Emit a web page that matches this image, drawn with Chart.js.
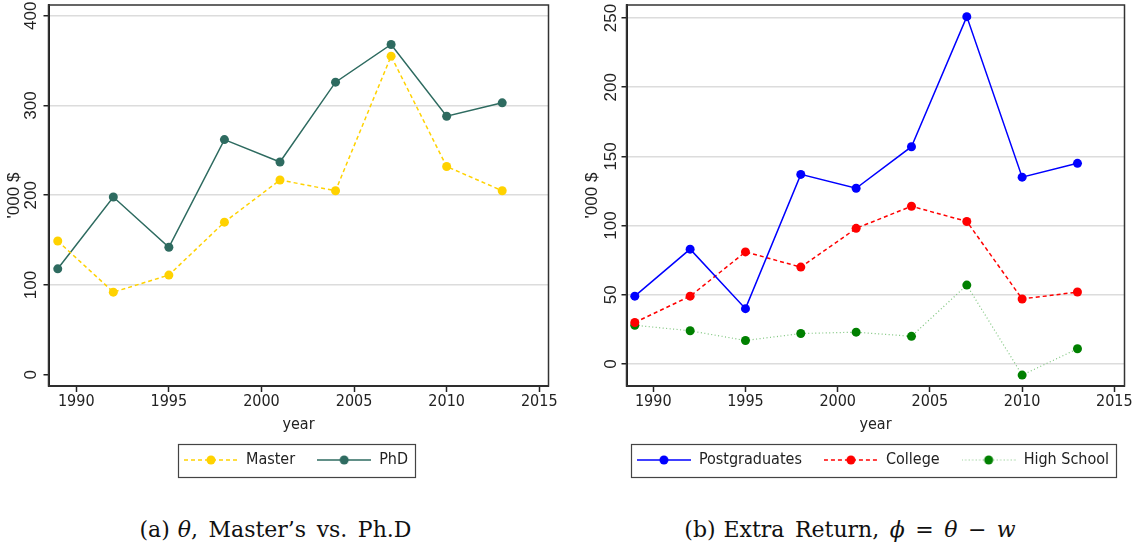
<!DOCTYPE html>
<html>
<head>
<meta charset="utf-8">
<script src="https://cdn.jsdelivr.net/npm/chart.js@4.4.1/dist/chart.umd.min.js"></script>
<style>
  body { margin: 0; background: #fff; }
  #page { position: relative; width: 1134px; height: 550px; }
  .panel { position: absolute; top: 0; }
  .cap {
    position: absolute; top: 517px; text-align: center;
    font-family: 'DejaVu Serif', 'Liberation Serif', serif; font-size: 22px;
    word-spacing: 3.5px; line-height: 26px; color: #111;
  }
  .cap .tag { margin-right: 8px; }
</style>
</head>
<body>
<div id="page">
  <div class="panel" style="left:0"><canvas id="theta" width="578" height="490"></canvas></div>
  <div class="panel" style="left:578px"><canvas id="extra" width="556" height="490"></canvas></div>
  <div class="cap" style="left:0;width:551px"><span class="tag">(a)</span><i>θ</i>, Master’s vs. Ph.D</div>
  <div class="cap" style="left:578px;width:544px"><span class="tag">(b)</span>Extra Return, <i>ϕ</i> = <i>θ</i> − <i>w</i></div>
</div>

<script>
// survey waves
const years = [1989, 1992, 1995, 1998, 2001, 2004, 2007, 2010, 2013];

// panel (a): theta by degree, '000 $
const master = [149, 92, 111, 170, 217, 205, 355, 232, 205];
const phd = [118, 198, 142, 262, 237, 326, 368, 288, 303];

// panel (b): extra return phi, '000 $
const postgrad = [49, 83, 40, 137, 127, 157, 251, 135, 145];
const college = [30, 49, 81, 70, 98, 114, 103, 47, 52];
const highSchool = [28, 24, 17, 22, 23, 20, 57, -8, 11];

const xTicks = [1990, 1995, 2000, 2005, 2010, 2015];
const yTicksA = [0, 100, 200, 300, 400];
const yTicksB = [0, 50, 100, 150, 200, 250];

const sans = "'Liberation Sans', Arial, sans-serif";
const narrow = "'Liberation Sans Narrow', 'Arial Narrow', 'DejaVu Sans Condensed', sans-serif";
const ink = '#222';

// little line+dot swatch used as the legend key
function keyImage(line, dot, dash, lw) {
  const c = document.createElement('canvas');
  c.width = 54; c.height = 12;
  const g = c.getContext('2d');
  g.strokeStyle = line; g.lineWidth = lw; g.setLineDash(dash);
  g.beginPath(); g.moveTo(0, 6); g.lineTo(54, 6); g.stroke();
  g.fillStyle = dot;
  g.beginPath(); g.arc(27, 6, 4.5, 0, Math.PI * 2); g.fill();
  return c;
}

function series(label, values, line, dot, dash, lw) {
  return {
    label: label,
    data: years.map((x, i) => ({ x: x, y: values[i] })),
    borderColor: line,
    backgroundColor: dot,
    pointBackgroundColor: dot,
    pointBorderColor: dot,
    pointBorderWidth: 0,
    pointRadius: 4.5,
    pointHoverRadius: 4.5,
    borderWidth: lw,
    borderDash: dash,
    tension: 0,
    fill: false,
    key: keyImage(line, dot, dash, lw)
  };
}

// plot frame, legend box and legend centring over the plot
const stataFrame = {
  id: 'stataFrame',
  afterLayout(chart, args, opts) {
    const lg = chart.legend, a = chart.chartArea;
    const dx = (a.left + a.right) / 2 - (lg.left + lg.right) / 2 + opts.nudge;
    lg.left += dx; lg.right += dx;
  },
  afterDraw(chart) {
    const { ctx, chartArea: a } = chart;
    ctx.save();
    ctx.strokeStyle = '#333';
    ctx.lineWidth = 1.5;
    ctx.strokeRect(a.left, a.top, a.right - a.left, a.bottom - a.top);

    const hb = chart.legend.legendHitBoxes;
    const l = Math.min(...hb.map(h => h.left)) - 5.5;
    const r = Math.max(...hb.map(h => h.left + h.width)) + 7;
    const t = hb[0].top - 8;
    ctx.lineWidth = 1.2;
    ctx.strokeStyle = '#444';
    ctx.strokeRect(Math.round(l) + 0.5, Math.round(t) + 0.5, Math.round(r - l), 33);
    ctx.restore();
  }
};

function makeChart(id, datasets, yTicks, yMin, yMax, xMin, xMax, tickPad, padRight, hideZero) {
  return new Chart(document.getElementById(id), {
    type: 'line',
    data: { datasets: datasets },
    plugins: [stataFrame],
    options: {
      responsive: false,
      animation: false,
      layout: { padding: { top: 5, right: padRight, bottom: 12, left: 0 } },
      plugins: {
        tooltip: { enabled: false },
        stataFrame: { nudge: -2.5 },
        legend: {
          position: 'bottom',
          labels: {
            usePointStyle: true,
            pointStyleWidth: 54,
            padding: 22,
            color: ink,
            font: { family: narrow, size: 16 },
            generateLabels: chart =>
              Chart.defaults.plugins.legend.labels.generateLabels(chart).map(item =>
                Object.assign(item, { pointStyle: chart.data.datasets[item.datasetIndex].key }))
          }
        }
      },
      scales: {
        x: {
          type: 'linear',
          min: xMin,
          max: xMax,
          afterBuildTicks: s => { s.ticks = xTicks.map(v => ({ value: v })); },
          afterFit: s => { s.height = 44; s.paddingLeft = 0; s.paddingRight = 0; },
          ticks: {
            callback: v => String(v),
            autoSkip: false,
            maxRotation: 0,
            padding: 0,
            color: ink,
            font: { family: narrow, size: 16 }
          },
          grid: { drawOnChartArea: false, tickLength: 6, tickColor: ink, tickWidth: 1.5 },
          border: { color: ink, width: 2 },
          title: {
            display: true, text: 'year', color: ink,
            font: { family: narrow, size: 16 },
            padding: { top: 0, bottom: -4 }
          }
        },
        y: {
          min: yMin,
          max: yMax,
          afterBuildTicks: s => { s.ticks = yTicks.map(v => ({ value: v })); },
          afterFit: s => { s.width = 48.5; s.paddingTop = 0; s.paddingBottom = 0; },
          ticks: {
            minRotation: 90,
            maxRotation: 90,
            crossAlign: 'center',
            padding: tickPad,
            color: ink,
            font: { family: sans, size: 17 }
          },
          grid: {
            color: c => (hideZero && c.tick && c.tick.value === 0) ? 'rgba(0,0,0,0)' : '#dcdcdc',
            lineWidth: 1.5,
            tickLength: 5,
            tickColor: ink,
            tickWidth: 1.5
          },
          border: { color: ink, width: 2 },
          title: {
            display: true, text: "'000 $", color: ink,
            font: { family: sans, size: 17 },
            padding: { top: 4.5, bottom: 0 }
          }
        }
      }
    }
  });
}

makeChart('theta', [
  series('Master', master, '#FFD200', '#FFD200', [4, 3], 1.5),
  series('PhD', phd, '#2E6B60', '#2E6B60', [], 1.5)
], yTicksA, -12.6, 412, 1988.5, 2015.5, -2, 29.5, true);

makeChart('extra', [
  series('Postgraduates', postgrad, '#0000FF', '#0000FF', [], 1.5),
  series('College', college, '#FF0000', '#FF0000', [4, 3], 1.5),
  series('High School', highSchool, '#7CC47C', '#008000', [1, 2.5], 1.2)
], yTicksB, -15.9, 259.4, 1988.55, 2015.55, -4, 9.5, false);
</script>
</body>
</html>
